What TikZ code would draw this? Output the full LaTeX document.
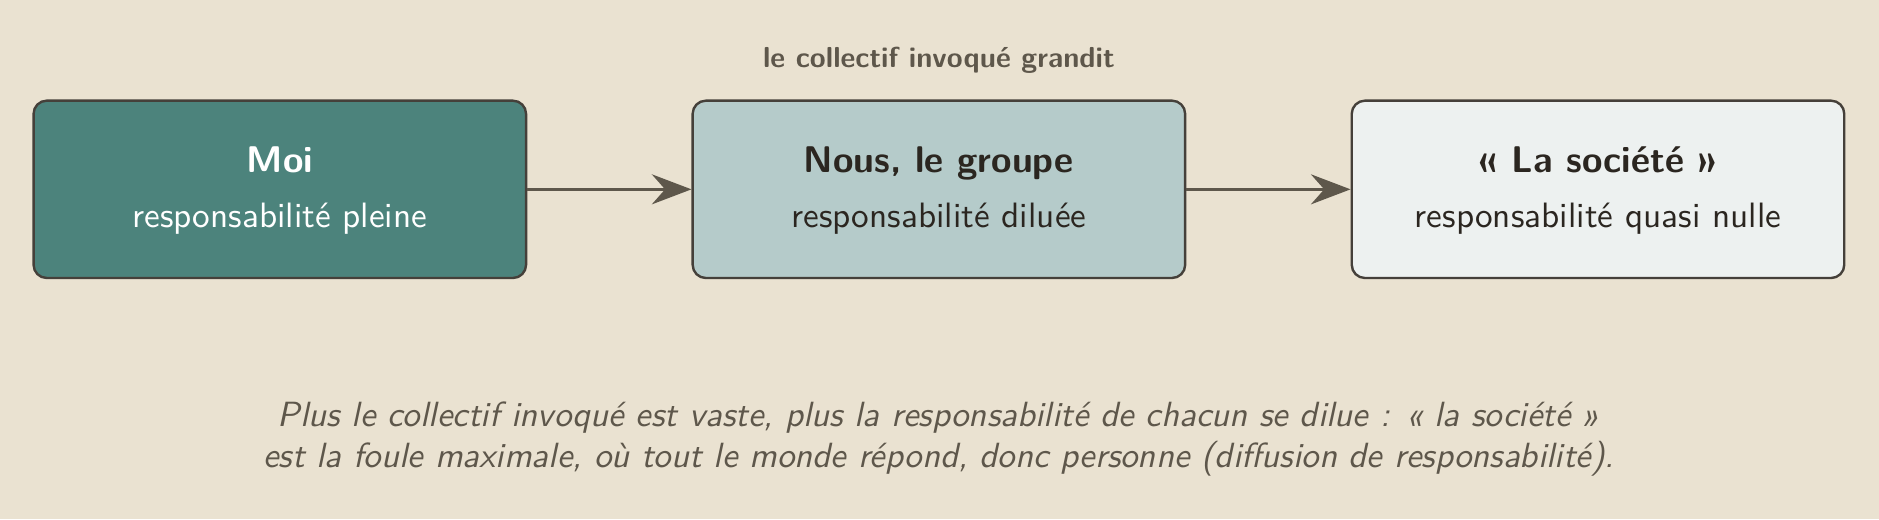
\documentclass[tikz,border=0pt]{standalone}
\usepackage{fontspec}
\setsansfont{lmsans10}[Extension=.otf, UprightFont=*-regular, BoldFont=*-bold, ItalicFont=*-oblique, BoldItalicFont=*-boldoblique]
\usetikzlibrary{arrows.meta}
\definecolor{bg}{HTML}{EAE2D1}
\definecolor{edge}{HTML}{45403A}
\definecolor{cone}{HTML}{4C837C}
\definecolor{ctwo}{HTML}{B5CBCA}
\definecolor{cthree}{HTML}{EDF1F0}
\definecolor{ink}{HTML}{2B2620}
\definecolor{muted}{HTML}{5E574B}
\begin{document}
\begin{tikzpicture}[x=1pt,y=-1pt,
  card/.style={draw=edge, line width=2pt, rounded corners=11pt, minimum width=411pt, minimum height=148pt, inner sep=0pt},
  headtxt/.style={anchor=base, inner sep=0pt, font=\fontsize{31}{37}\selectfont\sffamily\bfseries},
  subtxt/.style={anchor=base, inner sep=0pt, font=\fontsize{29.4}{35}\selectfont\sffamily},
  flow/.style={draw=muted, line width=2.6pt, -{Stealth[length=33pt,width=25pt,inset=11pt]}},
  toplabel/.style={anchor=base, inner sep=0pt, text=muted, font=\fontsize{24.1}{29}\selectfont\sffamily\bfseries},
  caption/.style={anchor=base, inner sep=0pt, text=muted, font=\fontsize{29.2}{35}\selectfont\sffamily\itshape}
]
\fill[bg] (0,0) rectangle (1568,433.1);
\useasboundingbox (0,0) rectangle (1568,433.1);
\node[toplabel] (top) at (783.5,56) {le collectif invoqué grandit};
\node[card, fill=cone] (moi) at (233.5,158) {};
\node[card, fill=ctwo] (nous) at (783.5,158) {};
\node[card, fill=cthree] (soc) at (1333.5,158) {};
\node[headtxt, text=white] (moih) at (233.5,144) {Moi};
\node[subtxt, text=white] (mois) at (233.5,190) {responsabilité pleine};
\node[headtxt, text=ink] (noush) at (783.5,144) {Nous, le groupe};
\node[subtxt, text=ink] (nouss) at (783.5,190) {responsabilité diluée};
\node[headtxt, text=ink] (soch) at (1333.5,144) {«~La société~»};
\node[subtxt, text=ink] (socs) at (1333.5,190) {responsabilité quasi nulle};
\draw[flow] (moi.east) -- (nous.west);
\draw[flow] (nous.east) -- (soc.west);
\node[caption] (cap1) at (783.5,356) {Plus le collectif invoqué est vaste, plus la responsabilité de chacun se dilue~: «~la société~»};
\node[caption] (cap2) at (783.5,390) {est la foule maximale, où tout le monde répond, donc personne (diffusion de responsabilité).};
\end{tikzpicture}
\end{document}
